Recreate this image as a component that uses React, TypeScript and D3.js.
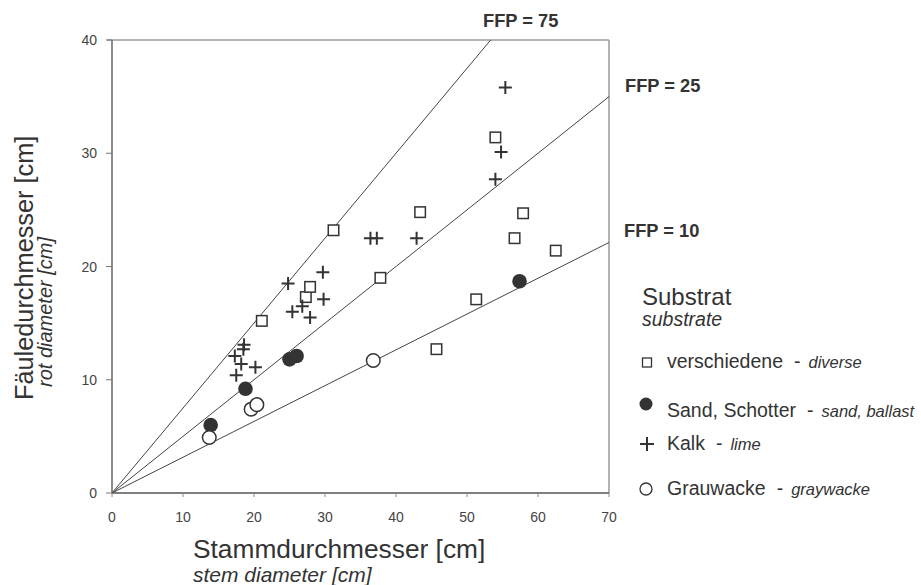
import React from "react";
import * as d3 from "d3";

// ---- data ----
const xTicks = [0, 10, 20, 30, 40, 50, 60, 70];
const yTicks = [0, 10, 20, 30, 40];

const ffpLabels = ["FFP = 75", "FFP = 25", "FFP = 10"];
const ffpSlopes = [0.75, 0.5, 0.316];

const diverseX = [21.1, 27.3, 27.9, 31.2, 37.8, 43.4, 45.7, 51.3, 54.0, 56.7, 57.9, 62.5];
const diverseY = [15.2, 17.3, 18.2, 23.2, 19.0, 24.8, 12.7, 17.1, 31.4, 22.5, 24.7, 21.4];

const kalkX = [17.3, 17.5, 18.2, 18.5, 18.6, 20.2, 24.8, 25.4, 26.8, 27.9, 29.7, 29.8, 36.4, 37.3, 42.9, 54.0, 54.8, 55.4];
const kalkY = [12.1, 10.4, 11.4, 12.7, 13.1, 11.1, 18.5, 16.0, 16.5, 15.5, 19.5, 17.1, 22.5, 22.5, 22.5, 27.7, 30.1, 35.8];

const sandX = [13.9, 18.8, 25.0, 26.0, 57.4];
const sandY = [6.0, 9.2, 11.8, 12.1, 18.7];

const grauX = [13.7, 19.6, 20.4, 36.8];
const grauY = [4.9, 7.4, 7.8, 11.7];

const legendMain = ["verschiedene", "Sand, Schotter", "Kalk", "Grauwacke"];
const legendSub = ["diverse", "sand, ballast", "lime", "graywacke"];

const FONT = "'Liberation Sans', Arial, Helvetica, sans-serif";
const INK = "#333";

export default function App() {
  const x = d3.scaleLinear().domain([0, 70]).range([112, 609]);
  const y = d3.scaleLinear().domain([0, 40]).range([493, 40]);
  const [x0, x1] = x.range();
  const [y0, y1] = y.range();

  const ffpLabelPos = [
    { x: 483, y: 27 },
    { x: 625, y: 92 },
    { x: 624, y: 237 },
  ];

  const legendY = [368, 417, 450, 495];
  const symX = 647;

  const sq = 10.5;
  const cr = 6.8;

  return (
    <svg
      width={921}
      height={585}
      style={{ position: "absolute", left: 0, top: 0, background: "#fff" }}
      fontFamily={FONT}
    >
      <rect x={0} y={0} width={921} height={585} fill="#fff" />
      {/* frame top / right */}
      <line x1={x0 - 5} x2={x1} y1={y1} y2={y1} stroke="#9a9a9a" strokeWidth={1.5} />
      <line x1={x1} x2={x1} y1={y1} y2={y0} stroke="#9a9a9a" strokeWidth={1.5} />

      {/* FFP lines */}
      {ffpSlopes.map((s, i) => {
        const xe = Math.min(70, 40 / s);
        return (
          <line
            key={i}
            x1={x(0)}
            y1={y(0)}
            x2={x(xe)}
            y2={y(s * xe)}
            stroke="#444"
            strokeWidth={1}
          />
        );
      })}

      {/* axes */}
      <line x1={x0} x2={x0} y1={y1} y2={y0} stroke="#666" strokeWidth={1.5} />
      <line x1={x0} x2={x1} y1={y0} y2={y0} stroke="#555" strokeWidth={1.5} />
      {yTicks.map((t) => (
        <g key={"yt" + t}>
          <line x1={x0 - 6} x2={x0} y1={y(t)} y2={y(t)} stroke="#777" strokeWidth={1} />
          <text x={97} y={y(t) + 5} textAnchor="end" fontSize={14} fill="#444">
            {t}
          </text>
        </g>
      ))}
      {xTicks.map((t) => (
        <g key={"xt" + t}>
          <line x1={x(t)} x2={x(t)} y1={y0} y2={y0 + 4} stroke="#888" strokeWidth={1} />
          <text x={x(t)} y={522} textAnchor="middle" fontSize={14} fill="#444">
            {t}
          </text>
        </g>
      ))}

      {/* markers: diverse squares */}
      {diverseX.map((v, i) => (
        <rect
          key={"d" + i}
          x={x(v) - sq / 2}
          y={y(diverseY[i]) - sq / 2}
          width={sq}
          height={sq}
          fill="#fff"
          stroke={INK}
          strokeWidth={1.5}
        />
      ))}
      {/* Kalk crosses */}
      {kalkX.map((v, i) => {
        const cx = x(v);
        const cy = y(kalkY[i]);
        return (
          <path
            key={"k" + i}
            d={`M${cx - 6.5},${cy}H${cx + 6.5}M${cx},${cy - 6.5}V${cy + 6.5}`}
            stroke={INK}
            strokeWidth={2}
            fill="none"
          />
        );
      })}
      {/* Sand filled circles */}
      {sandX.map((v, i) => (
        <circle key={"s" + i} cx={x(v)} cy={y(sandY[i])} r={7.3} fill="#333" />
      ))}
      {/* Grauwacke open circles */}
      {grauX.map((v, i) => (
        <circle
          key={"g" + i}
          cx={x(v)}
          cy={y(grauY[i])}
          r={cr}
          fill="#fff"
          stroke={INK}
          strokeWidth={1.5}
        />
      ))}

      {/* FFP labels */}
      {ffpLabels.map((l, i) => (
        <text
          key={"fl" + i}
          x={ffpLabelPos[i].x}
          y={ffpLabelPos[i].y}
          fontSize={18.3}
          fontWeight="bold"
          fill={INK}
        >
          {l}
        </text>
      ))}

      {/* axis titles */}
      <text x={193} y={558} fontSize={26.3} fill={INK}>
        Stammdurchmesser [cm]
      </text>
      <text x={193} y={582} fontSize={21} fontStyle="italic" fill={INK}>
        stem diameter [cm]
      </text>
      <text transform="translate(33,400) rotate(-90)" fontSize={25.3} fill={INK}>
        Fäuledurchmesser [cm]
      </text>
      <text transform="translate(52,387) rotate(-90)" fontSize={20} fontStyle="italic" fill={INK}>
        rot diameter [cm]
      </text>

      {/* legend */}
      <text x={642} y={305} fontSize={24} fill={INK}>
        Substrat
      </text>
      <text x={642} y={326} fontSize={19.5} fontStyle="italic" fill={INK}>
        substrate
      </text>
      <rect x={symX - 4.5} y={legendY[0] - 10} width={9} height={9} fill="#fff" stroke={INK} strokeWidth={1.3} />
      <circle cx={symX - 1} cy={legendY[1] - 13} r={6.5} fill="#333" />
      <path
        d={`M${symX - 7},${legendY[2] - 6}H${symX + 7}M${symX},${legendY[2] - 13}V${legendY[2] + 1}`}
        stroke={INK}
        strokeWidth={2}
      />
      <circle cx={symX - 1} cy={legendY[3] - 6} r={6} fill="#fff" stroke={INK} strokeWidth={1.3} />
      {legendMain.map((m, i) => (
        <text key={"lg" + i} x={667} y={legendY[i]} fontSize={19.5} fill={INK}>
          {m}
          <tspan dx={11}>-</tspan>
          <tspan dx={8} fontStyle="italic" fontSize={16.5}>
            {legendSub[i]}
          </tspan>
        </text>
      ))}
    </svg>
  );
}
